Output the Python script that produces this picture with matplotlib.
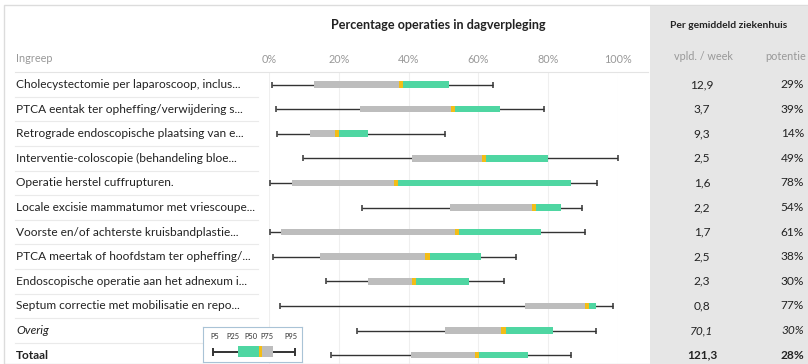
import matplotlib.pyplot as plt
import matplotlib.transforms as mtransforms
from matplotlib.patches import Rectangle

plt.rcParams['font.family'] = ['Lato', 'DejaVu Sans']

labels = [
    "Cholecystectomie per laparoscoop, inclus...",
    "PTCA eentak ter opheffing/verwijdering s...",
    "Retrograde endoscopische plaatsing van e...",
    "Interventie-coloscopie (behandeling bloe...",
    "Operatie herstel cuffrupturen.",
    "Locale excisie mammatumor met vriescoupe...",
    "Voorste en/of achterste kruisbandplastie...",
    "PTCA meertak of hoofdstam ter opheffing/...",
    "Endoscopische operatie aan het adnexum i...",
    "Septum correctie met mobilisatie en repo...",
    "Overig",
    "Totaal",
]
p5 = [0.8, 2.0, 2.4, 9.6, 0.3, 26.6, 0.3, 1.1, 16.2, 3.2, 25.1, 17.7]
p25 = [12.9, 26.1, 11.8, 41.1, 6.5, 51.9, 3.3, 14.6, 28.5, 73.4, 50.5, 40.6]
p50 = [37.8, 52.7, 19.4, 61.6, 36.3, 76.0, 53.8, 45.4, 41.6, 91.1, 67.2, 59.7]
p75 = [51.7, 66.2, 28.5, 79.8, 86.5, 83.6, 78.0, 60.8, 57.2, 93.8, 81.5, 74.2]
p95 = [64.3, 78.7, 50.3, 100.0, 94.1, 89.7, 90.6, 70.7, 67.2, 98.5, 93.8, 86.5]
vpld = ["12,9", "3,7", "9,3", "2,5", "1,6", "2,2", "1,7", "2,5", "2,3", "0,8", "70,1", "121,3"]
potentie = ["29%", "39%", "14%", "49%", "78%", "54%", "61%", "38%", "30%", "77%", "30%", "28%"]
ticks = [0, 20, 40, 60, 80, 100]

# legend sample (P5, P25, P50, P75, P95) and where its labels sit
legend_sample = [10, 35, 55.5, 70, 92]
legend_names = ["P5", "P25", "P50", "P75", "P95"]
legend_label_x = [12, 30, 48, 64, 88]

GREY = "#bdbdbd"
GREEN = "#4fd6a2"
YELLOW = "#f3bd16"
DARK = "#333333"

W, H = 808, 364
fig = plt.figure(figsize=(W / 100, H / 100), dpi=100)


def fx(x):
    return x / W


def fy(y):
    return 1 - y / H


# background panels
fig.add_artist(Rectangle((fx(4), 0), 1, fy(5), transform=fig.transFigure,
                         facecolor="white", edgecolor="#dcdcdc", lw=1, zorder=-2))
fig.add_artist(Rectangle((fx(650), 0), 1, fy(6), transform=fig.transFigure,
                         facecolor="#e6e6e6", edgecolor="none", zorder=-1))

# main axes: x 269..618 px, y 72..364 px
top_row, step = 84.5, 24.6
ax_top, ax_bot = 72, 364
ax = fig.add_axes([fx(269), fy(ax_bot), fx(618) - fx(269), (ax_bot - ax_top) / H])
ax.set_facecolor("none")
ax.set_xlim(0, 100)
ax.set_ylim((ax_bot - top_row) / step, -(top_row - ax_top) / step)
for s in ax.spines.values():
    s.set_visible(False)
ax.xaxis.tick_top()
ax.set_xticks(ticks)
ax.set_xticklabels([f"{t}%" for t in ticks], color="#999999", fontsize=7.8)
ax.tick_params(axis="x", length=0, pad=5)
ax.set_yticks([])
ax.grid(axis="x", color="#efefef", lw=0.8)
ax.set_axisbelow(True)

rows = list(range(len(labels)))
ax.hlines(rows, p5, p95, color=DARK, lw=1.0, zorder=2)
ax.plot(p5, rows, ls="none", marker="|", ms=5, mew=1.1, color=DARK, zorder=2)
ax.plot(p95, rows, ls="none", marker="|", ms=5, mew=1.1, color=DARK, zorder=2)
bh = 0.27
ax.barh(rows, [b - a for a, b in zip(p25, p50)], left=p25, height=bh, color=GREY, zorder=3)
ax.barh(rows, [b - a for a, b in zip(p50, p75)], left=p50, height=bh, color=GREEN, zorder=3)
ax.barh(rows, 1.2, left=[m - 0.6 for m in p50], height=bh, color=YELLOW, zorder=4)

# text columns (figure x, data y)
tr = mtransforms.blended_transform_factory(fig.transFigure, ax.transData)
for i, lab in enumerate(labels):
    style = dict(fontsize=8.6, color="#222222", va="center", transform=tr)
    if lab == "Overig":
        style["style"] = "italic"
    if lab == "Totaal":
        style["fontweight"] = "bold"
    ax.text(fx(16), i, lab, ha="left", **style)
    ax.text(fx(702), i, vpld[i], ha="center", **style)
    ax.text(fx(804), i, potentie[i], ha="right", **style)
    if i < len(labels) - 1:
        ax.plot([fx(15), fx(258)], [i + 0.5, i + 0.5], transform=tr, color="#eaeaea",
                lw=0.8, clip_on=False)
ax.plot([fx(15), fx(648)], [-0.5, -0.5], transform=tr, color="#e4e4e4", lw=0.8, clip_on=False)

# headers
fig.text(fx(438), fy(25), "Percentage operaties in dagverpleging", ha="center", va="center",
         fontsize=9.1, fontweight="bold", color="#222222")
fig.text(fx(729), fy(25), "Per gemiddeld ziekenhuis", ha="center", va="center",
         fontsize=7.4, fontweight="bold", color="#222222")
fig.text(fx(16), fy(58), "Ingreep", ha="left", va="center", fontsize=7.8, color="#999999")
fig.text(fx(703), fy(56), "vpld. / week", ha="center", va="center", fontsize=7.8, color="#999999")
fig.text(fx(806), fy(56), "potentie", ha="right", va="center", fontsize=7.8, color="#999999")

# legend box
lax = fig.add_axes([fx(203), fy(362), fx(302) - fx(203), (362 - 327) / H])
lax.set_xlim(0, 99)
lax.set_ylim(0, 1)
lax.set_xticks([])
lax.set_yticks([])
for s in lax.spines.values():
    s.set_color("#a9c3d6")
    s.set_linewidth(0.8)
lp5, lq1, lmed, lq3, lp95 = legend_sample
lax.hlines(0.3, lp5, lp95, color=DARK, lw=1.4)
lax.plot([lp5, lp95], [0.3, 0.3], ls="none", marker="|", ms=6, mew=1.4, color=DARK)
lax.barh(0.3, lmed - lq1, left=lq1, height=0.3, color=GREEN, zorder=3)
lax.barh(0.3, lq3 - lmed, left=lmed, height=0.3, color=GREY, zorder=3)
lax.barh(0.3, 3, left=lmed, height=0.3, color=YELLOW, zorder=4)
for lx, name in zip(legend_label_x, legend_names):
    lax.text(lx, 0.72, name, ha="center", va="center", fontsize=5.4, color="#333333")

fig.savefig("out.png", dpi=100)
